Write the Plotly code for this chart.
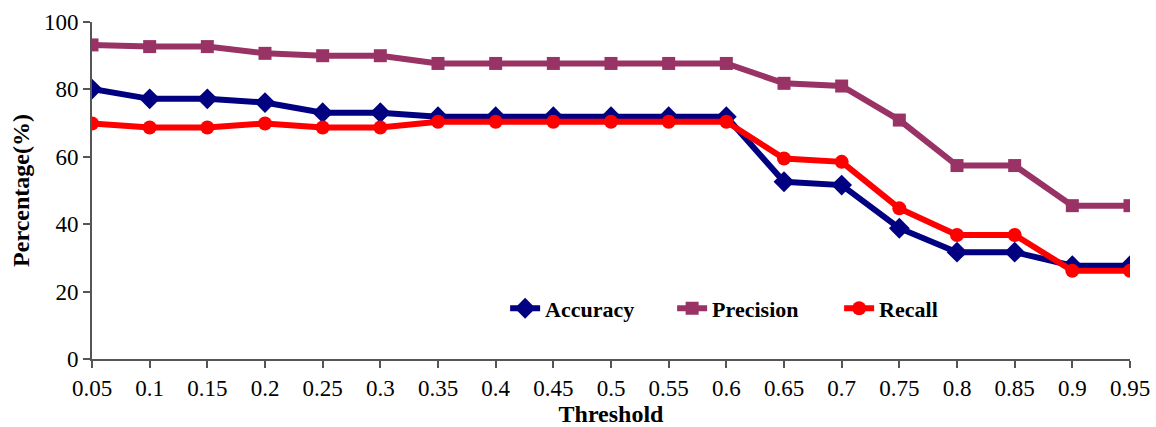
import plotly.graph_objects as go

thresholds = [0.05, 0.1, 0.15, 0.2, 0.25, 0.3, 0.35, 0.4, 0.45, 0.5,
              0.55, 0.6, 0.65, 0.7, 0.75, 0.8, 0.85, 0.9, 0.95]
tick_labels = ["0.05", "0.1", "0.15", "0.2", "0.25", "0.3", "0.35", "0.4", "0.45", "0.5",
               "0.55", "0.6", "0.65", "0.7", "0.75", "0.8", "0.85", "0.9", "0.95"]
accuracy = [80.1, 77.2, 77.2, 76.1, 73.1, 73.1, 71.9, 71.9, 71.9, 71.9,
            71.9, 71.9, 52.6, 51.6, 38.8, 31.7, 31.7, 27.7, 27.7]
precision = [93.2, 92.7, 92.7, 90.7, 90.0, 90.0, 87.7, 87.7, 87.7, 87.7,
             87.7, 87.7, 81.8, 81.0, 70.9, 57.4, 57.4, 45.5, 45.5]
recall = [69.9, 68.7, 68.7, 69.9, 68.7, 68.7, 70.4, 70.4, 70.4, 70.4,
          70.4, 70.4, 59.5, 58.5, 44.7, 36.8, 36.8, 26.2, 26.2]

serif = "Liberation Serif, Times New Roman, serif"

fig = go.Figure()
fig.add_trace(go.Scatter(x=thresholds, y=accuracy, name="Accuracy", mode="lines+markers",
                         line=dict(color="#000080", width=6),
                         marker=dict(symbol="diamond", size=16, color="#000080")))
fig.add_trace(go.Scatter(x=thresholds, y=precision, name="Precision", mode="lines+markers",
                         line=dict(color="#993366", width=6),
                         marker=dict(symbol="square", size=13, color="#993366")))
fig.add_trace(go.Scatter(x=thresholds, y=recall, name="Recall", mode="lines+markers",
                         line=dict(color="#FF0000", width=6),
                         marker=dict(symbol="circle", size=14, color="#FF0000")))

fig.update_layout(
    width=1156, height=427,
    margin=dict(l=92, r=26, t=22, b=68),
    paper_bgcolor="white", plot_bgcolor="white",
    font=dict(family=serif, color="black"),
    showlegend=True,
    legend=dict(orientation="h", x=0.398, y=0.15, xanchor="left", yanchor="middle",
                font=dict(family=serif, size=22, color="black", weight="bold"),
                bgcolor="rgba(0,0,0,0)", itemwidth=30, tracegroupgap=0,
                entrywidth=122, entrywidthmode="pixels"),
    xaxis=dict(range=[0.05, 0.95], tickmode="array", tickvals=thresholds, ticktext=tick_labels,
               automargin=False,
               showgrid=False, zeroline=False, showline=True, linecolor="#555555", linewidth=2,
               ticks="outside", ticklen=7, tickcolor="#555555", tickwidth=2,
               tickfont=dict(family=serif, size=23, color="black"),
               title=dict(text="<b>Threshold</b>", font=dict(family=serif, size=24, color="black"),
                          standoff=14)),
    yaxis=dict(range=[0, 100], tickmode="array", tickvals=[0, 20, 40, 60, 80, 100],
               automargin=False,
               showgrid=False, zeroline=False, showline=True, linecolor="#555555", linewidth=2,
               ticks="outside", ticklen=7, tickcolor="#555555", tickwidth=2,
               tickfont=dict(family=serif, size=23, color="black"),
               title=dict(text="<b>Percentage(%)</b>", font=dict(family=serif, size=24, color="black"),
                          standoff=8)),
)

fig.write_html("out.html")
